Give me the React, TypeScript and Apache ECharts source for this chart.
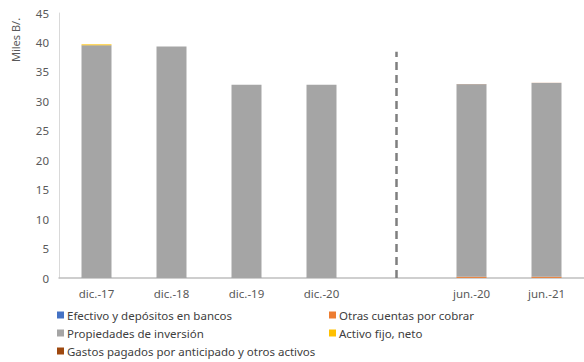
import React, { useEffect, useRef } from "react";
import * as echarts from "echarts";

const categories = ["dic.-17", "dic.-18", "dic.-19", "dic.-20", "", "jun.-20", "jun.-21"];
const efectivo = [0.02, 0.02, 0.02, 0.02, null, 0.02, 0.02];
const otrasCuentas = [0, 0, 0, 0, null, 0.2, 0.2];
const propiedades = [39.5, 39.3, 32.8, 32.8, null, 32.7, 32.9];
const activoFijo = [0.15, 0, 0, 0, null, 0, 0];
const gastos = [0, 0, 0, 0, null, 0.02, 0.02];
const dividerCategory = 4;
const dividerTop = 38.4;
const yTicks = { min: 0, max: 45, interval: 5 };

const FONT = "Noto Sans";
const TXT = "#595959";

export default function App() {
  const ref = useRef<HTMLDivElement>(null);
  useEffect(() => {
    if (!ref.current) return;
    const chart = echarts.init(ref.current, null, { renderer: "svg" });
    const mk = (name: string, data: any[], color: string, extra: any = {}) => ({
      name,
      type: "bar",
      stack: "total",
      data,
      barWidth: 30,
      itemStyle: { color },
      ...extra,
    });
    const legendBase = {
      top: 308,
      height: 56,
      padding: 0,
      orient: "vertical",
      itemWidth: 7,
      itemHeight: 7,
      itemGap: 4,
      icon: "rect",
      textStyle: { color: "#404040", fontSize: 11.5, fontFamily: FONT, lineHeight: 14, padding: [0, 0, 0, -2] },
    };
    chart.setOption({
      animation: false,
      textStyle: { fontFamily: FONT },
      grid: { left: 59, top: 13, bottom: 84, right: -9, containLabel: false },
      xAxis: {
        type: "category",
        data: categories,
        axisLine: { lineStyle: { color: "#bfbfbf", width: 1.5 } },
        axisTick: { show: false },
        axisLabel: { color: TXT, fontSize: 11.5, fontFamily: FONT, margin: 9, interval: 0 },
      },
      yAxis: {
        type: "value",
        min: yTicks.min,
        max: yTicks.max,
        interval: yTicks.interval,
        splitLine: { show: false },
        axisLine: { show: true, lineStyle: { color: "#d9d9d9", width: 1 } },
        axisTick: { show: false },
        axisLabel: { color: TXT, fontSize: 11.5, fontFamily: FONT, margin: 10 },
      },
      legend: [
        {
          ...legendBase,
          left: 57,
          data: ["Efectivo y depósitos en bancos", "Propiedades de inversión", "Gastos pagados por anticipado y otros activos"],
        },
        {
          ...legendBase,
          left: 329,
          data: ["Otras cuentas por cobrar", "Activo fijo, neto"],
        },
      ],
      graphic: [
        {
          type: "text",
          x: 15,
          y: 40,
          rotation: Math.PI / 2,
          style: {
            text: "Miles B/.",
            fill: TXT,
            fontSize: 11,
            fontFamily: FONT,
            textAlign: "center",
            textVerticalAlign: "middle",
          },
        },
      ],
      series: [
        mk("Efectivo y depósitos en bancos", efectivo, "#4472c4"),
        mk("Otras cuentas por cobrar", otrasCuentas, "#ed7d31"),
        mk("Propiedades de inversión", propiedades, "#a5a5a5", {
          markLine: {
            silent: true,
            symbol: "none",
            label: { show: false },
            lineStyle: { color: "#7f7f7f", type: [8, 5], width: 2.5 },
            data: [[{ coord: [dividerCategory, 0] }, { coord: [dividerCategory, dividerTop] }]],
          },
        }),
        mk("Activo fijo, neto", activoFijo, "#ffc000"),
        mk("Gastos pagados por anticipado y otros activos", gastos, "#9e480e"),
      ],
    });
    return () => chart.dispose();
  }, []);
  return (
    <div
      ref={ref}
      style={{ position: "absolute", left: 0, top: 0, width: 584, height: 362, background: "#fff" }}
    />
  );
}
